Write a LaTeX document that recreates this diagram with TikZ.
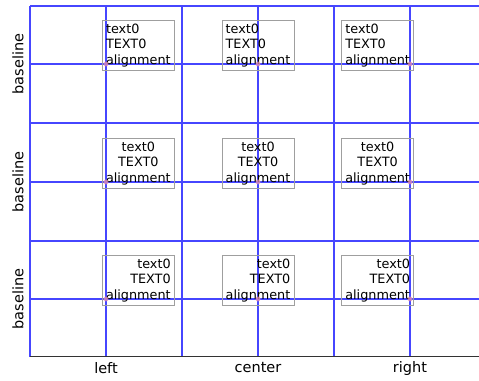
\documentclass[tikz,border=0pt]{standalone}
\usepackage{fontspec}
\setmainfont{DejaVu Sans}
\begin{document}
\begin{tikzpicture}[x=1pt,y=1pt,
  gridline/.style={draw={rgb,255:red,70;green,70;blue,255}, line width=1.3pt},
  tbox/.style={draw=gray!75, line width=0.8pt, inner sep=3.6pt,
    font=\fontsize{12.8}{15.4}\selectfont, text=black},
  tick/.style={font=\fontsize{14.5}{16}\selectfont, text=black},
  dot/.style={circle, fill={rgb,255:red,240;green,150;blue,170}, fill opacity=0.7, inner sep=0pt, minimum size=5pt}]
\useasboundingbox (0,0) rectangle (479,380);
\clip (0,0) rectangle (479,380);
% axes frame
\draw[black!80, line width=1pt] (30,23) rectangle (486,374);
% grid lines (vertical)
\foreach \i in {0,...,6} {\draw[gridline] ({30+76*\i},23) -- ({30+76*\i},374);}
% grid lines (horizontal)
\foreach \y in {81,139,198,257,316,374} {\draw[gridline] (30,\y) -- (486,\y);}
\draw[black!80, line width=1pt] (30,23) -- (486,23);
% text boxes: rows top (left), middle (center), bottom (right)
\foreach \y/\al/\rw in {316/left/t,198/center/m,81/right/b} {
  \node[tbox, align=\al, anchor=south west] (\rw l) at (102,{\y-7}) {text0\\TEXT0\\alignment};
  \node[tbox, align=\al, anchor=south] (\rw c) at (258,{\y-7}) {text0\\TEXT0\\alignment};
  \node[tbox, align=\al, anchor=south east] (\rw r) at (414,{\y-7}) {text0\\TEXT0\\alignment};
  \node[dot] (\rw dl) at (106,\y) {};
  \node[dot] (\rw dc) at (258,\y) {};
  \node[dot] (\rw dr) at (410,\y) {};
}
% tick labels
\node[tick] (xl) at (106,12) {left};
\node[tick] (xc) at (258,12) {center};
\node[tick] (xr) at (410,12) {right};
\foreach \y/\n in {81/yb,198/ym,316/yt} {
  \node[tick, rotate=90] (\n) at (18,\y) {baseline};
}
\end{tikzpicture}
\end{document}
